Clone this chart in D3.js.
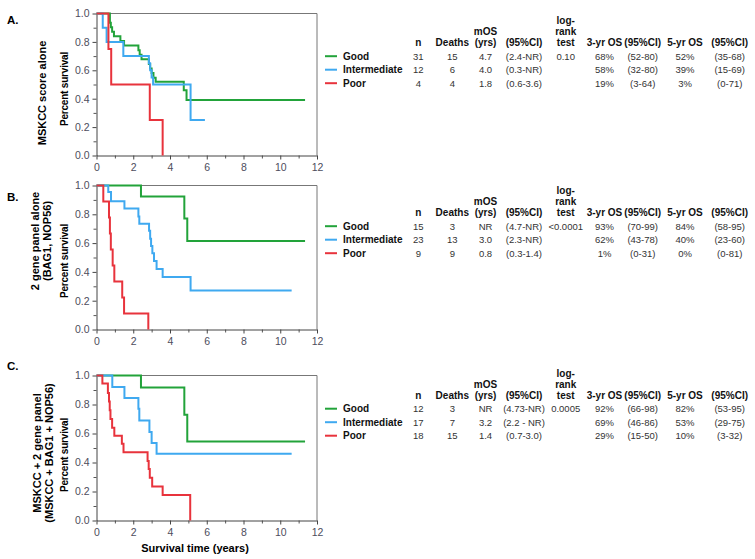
<!DOCTYPE html>
<html><head><meta charset="utf-8">
<script src="https://cdn.jsdelivr.net/npm/d3@7"></script>
<style>body{margin:0;background:#fff} svg{display:block} text{font-family:"Liberation Sans",Arial,Helvetica,sans-serif}</style>
</head><body><svg id="c" width="755" height="559"></svg>
<script>
const groups = ["Good", "Intermediate", "Poor"];
const colors = ["#22a33a", "#3fa9f0", "#e8333c"];
const xTicks = [0, 2, 4, 6, 8, 10, 12];
const yTicks = [0, 0.2, 0.4, 0.6, 0.8, 1.0];
const headerTop = ["", "", "", "", "log-", "", "", "", ""];
const headerMid = ["", "", "mOS", "", "rank", "", "", "", ""];
const headerBot = ["n", "Deaths", "(yrs)", "(95%CI)", "test", "3-yr OS", "(95%CI)", "5-yr OS", "(95%CI)"];

// Panel A: MSKCC score alone
const timesA_good = [0.73, 0.78, 0.85, 0.95, 1.3, 1.5, 2.28, 2.35, 2.45, 2.85, 2.92, 3.0, 3.1, 3.22, 4.75, 4.9];
const survA_good  = [0.935, 0.903, 0.871, 0.839, 0.806, 0.774, 0.742, 0.71, 0.677, 0.645, 0.613, 0.581, 0.548, 0.52, 0.46, 0.39];
const endA_good = 11.35;
const timesA_int = [0.34, 0.55, 1.46, 2.85, 2.92, 3.0, 3.08, 5.12];
const survA_int  = [0.9, 0.8, 0.7, 0.65, 0.6, 0.55, 0.5, 0.25];
const endA_int = 5.9;
const timesA_poor = [0.65, 0.8, 2.9, 3.6];
const survA_poor  = [0.75, 0.5, 0.25, 0];
const endA_poor = 3.6;
const tableA_good = ["31", "15", "4.7", "(2.4-NR)", "0.10", "68%", "(52-80)", "52%", "(35-68)"];
const tableA_int  = ["12", "6", "4.0", "(0.3-NR)", "", "58%", "(32-80)", "39%", "(15-69)"];
const tableA_poor = ["4", "4", "1.8", "(0.6-3.6)", "", "19%", "(3-64)", "3%", "(0-71)"];

// Panel B: 2 gene panel alone
const timesB_good = [2.42, 4.78, 4.94];
const survB_good  = [0.923, 0.77, 0.615];
const endB_good = 11.35;
const timesB_int = [0.64, 0.79, 1.52, 2.28, 2.33, 2.86, 2.92, 2.97, 3.04, 3.13, 3.27, 3.6, 5.12];
const survB_int  = [0.955, 0.89, 0.84, 0.785, 0.735, 0.685, 0.63, 0.58, 0.53, 0.475, 0.42, 0.365, 0.27];
const endB_int = 10.62;
const timesB_poor = [0.37, 0.68, 0.73, 0.78, 0.88, 0.97, 1.4, 1.5, 2.82];
const survB_poor  = [0.889, 0.778, 0.667, 0.556, 0.444, 0.333, 0.222, 0.111, 0];
const endB_poor = 2.82;
const tableB_good = ["15", "3", "NR", "(4.7-NR)", "<0.0001", "93%", "(70-99)", "84%", "(58-95)"];
const tableB_int  = ["23", "13", "3.0", "(2.3-NR)", "", "62%", "(43-78)", "40%", "(23-60)"];
const tableB_poor = ["9", "9", "0.8", "(0.3-1.4)", "", "1%", "(0-31)", "0%", "(0-81)"];

// Panel C: MSKCC + 2 gene panel
const timesC_good = [2.42, 4.78, 4.94];
const survC_good  = [0.917, 0.73, 0.545];
const endC_good = 11.35;
const timesC_int = [0.86, 1.52, 2.28, 2.33, 2.88, 3.0, 3.27];
const survC_int  = [0.92, 0.845, 0.77, 0.69, 0.61, 0.535, 0.46];
const endC_int = 10.62;
const timesC_poor = [0.32, 0.62, 0.68, 0.72, 0.76, 0.85, 0.97, 1.38, 1.47, 2.78, 2.84, 2.9, 3.03, 3.6, 5.1];
const survC_poor  = [0.944, 0.88, 0.82, 0.76, 0.70, 0.64, 0.585, 0.53, 0.47, 0.41, 0.355, 0.295, 0.235, 0.176, 0];
const endC_poor = 5.1;
const tableC_good = ["12", "3", "NR", "(4.73-NR)", "0.0005", "92%", "(66-98)", "82%", "(53-95)"];
const tableC_int  = ["17", "7", "3.2", "(2.2 - NR)", "", "69%", "(46-86)", "53%", "(29-75)"];
const tableC_poor = ["18", "15", "1.4", "(0.7-3.0)", "", "29%", "(15-50)", "10%", "(3-32)"];

const panels = [
  {letter: "A.", labels: ["MSKCC score alone"], top: 13.5, bottom: 155.5, headerY: 42.5, letterY: 24, labelY: 93, labelX: [46], psY: 89,
   series: [[timesA_good, survA_good, endA_good], [timesA_int, survA_int, endA_int], [timesA_poor, survA_poor, endA_poor]],
   table: [tableA_good, tableA_int, tableA_poor]},
  {letter: "B.", labels: ["2 gene panel alone", "(BAG1, NOP56)"], top: 185.5, bottom: 329.5, headerY: 212.5, letterY: 201, labelY: 241, labelX: [39, 51], psY: 261,
   series: [[timesB_good, survB_good, endB_good], [timesB_int, survB_int, endB_int], [timesB_poor, survB_poor, endB_poor]],
   table: [tableB_good, tableB_int, tableB_poor]},
  {letter: "C.", labels: ["MSKCC + 2 gene panel", "(MSKCC + BAG1 + NOP56)"], top: 375.5, bottom: 520.5, headerY: 395, letterY: 370, labelY: 453, labelX: [41, 53], psY: 455,
   series: [[timesC_good, survC_good, endC_good], [timesC_int, survC_int, endC_int], [timesC_poor, survC_poor, endC_poor]],
   table: [tableC_good, tableC_int, tableC_poor]}
];

const colX = [418.3, 452.3, 485.5, 524, 565.7, 604.5, 642.7, 685, 729.7];
const svg = d3.select("#c");
const x = d3.scaleLinear().domain([0, 12]).range([96.5, 317]);
const tickColor = "#4d4d5c";

panels.forEach((p, pi) => {
  const y = d3.scaleLinear().domain([0, 1]).range([p.bottom, p.top]);
  const g = svg.append("g");

  // frame top & right
  g.append("line").attr("x1", x(0)).attr("x2", x(12)).attr("y1", y(1)).attr("y2", y(1)).attr("stroke", "#777").attr("stroke-width", 1);
  g.append("line").attr("x1", x(12)).attr("x2", x(12)).attr("y1", y(1)).attr("y2", y(0)).attr("stroke", "#777").attr("stroke-width", 1);

  // minor ticks
  g.append("g").attr("transform", `translate(${x(0)},0)`)
    .call(d3.axisLeft(y).tickValues(d3.range(0.1, 1, 0.2)).tickSize(3).tickSizeOuter(0).tickFormat(""))
    .call(a => a.select(".domain").remove()).selectAll("line").attr("stroke", "#555");
  g.append("g").attr("transform", `translate(0,${y(0)})`)
    .call(d3.axisBottom(x).tickValues(d3.range(1, 12, 2)).tickSize(3).tickSizeOuter(0).tickFormat(""))
    .call(a => a.select(".domain").remove()).selectAll("line").attr("stroke", "#555");

  // major axes
  const ya = g.append("g").attr("transform", `translate(${x(0)},0)`)
    .call(d3.axisLeft(y).tickValues(yTicks).tickSize(4).tickSizeOuter(0).tickPadding(3).tickFormat(d3.format(".1f")));
  const xa = g.append("g").attr("transform", `translate(0,${y(0)})`)
    .call(d3.axisBottom(x).tickValues(xTicks).tickSize(4).tickSizeOuter(0).tickPadding(4).tickFormat(d3.format("d")));
  [ya, xa].forEach(a => {
    a.select(".domain").attr("stroke", "#444");
    a.selectAll("line").attr("stroke", "#444");
    a.selectAll("text").attr("fill", tickColor).style("font-size", "10.5px");
  });

  // curves
  const line = d3.line().x(d => x(d[0])).y(d => y(d[1])).curve(d3.curveStepAfter);
  p.series.forEach((s, si) => {
    const [ts, ss, end] = s;
    const pts = [[0, 1]];
    ts.forEach((t, i) => pts.push([t, ss[i]]));
    if (end > ts[ts.length - 1]) pts.push([end, ss[ss.length - 1]]);
    g.append("path").attr("d", line(pts)).attr("fill", "none")
      .attr("stroke", colors[si]).attr("stroke-width", 2);
  });

  // letter
  g.append("text").attr("x", 7).attr("y", p.letterY).text(p.letter)
    .style("font-size", "11.5px").style("font-weight", "bold");

  // side labels
  p.labels.forEach((l, li) => {
    g.append("text").attr("transform", `translate(${p.labelX[li]},${p.labelY}) rotate(-90)`)
      .attr("text-anchor", "middle").text(l).style("font-size", "11px").style("font-weight", "bold");
  });
  g.append("text").attr("transform", `translate(67.5,${p.psY}) rotate(-90)`)
    .attr("text-anchor", "middle").text("Percent survival").style("font-size", "10px").style("font-weight", "bold").attr("letter-spacing", "-0.2");

  // table header
  [[headerTop, -22], [headerMid, -11], [headerBot, 0]].forEach(([arr, off]) => {
    arr.forEach((h, i) => {
      if (!h) return;
      g.append("text").attr("x", colX[i]).attr("y", p.headerY + off + 3.6).attr("text-anchor", "middle")
        .text(h).style("font-size", "10px").style("font-weight", "bold").attr("fill", "#111");
    });
  });
  // rows
  p.table.forEach((row, ri) => {
    const cy = p.headerY + 13.7 + ri * 13.5;
    g.append("line").attr("x1", 325).attr("x2", 337).attr("y1", cy).attr("y2", cy)
      .attr("stroke", colors[ri]).attr("stroke-width", 2);
    g.append("text").attr("x", 343).attr("y", cy + 3.6).text(groups[ri])
      .style("font-size", "10px").style("font-weight", "bold").attr("fill", "#111");
    row.forEach((v, i) => {
      if (!v) return;
      g.append("text").attr("x", colX[i]).attr("y", cy + 3.5).attr("text-anchor", "middle")
        .text(v).style("font-size", "9.5px").attr("fill", "#333");
    });
  });
});

svg.append("text").attr("x", 195).attr("y", 552).attr("text-anchor", "middle")
  .text("Survival time (years)").style("font-size", "11px").style("font-weight", "bold");
</script>
</body></html>
